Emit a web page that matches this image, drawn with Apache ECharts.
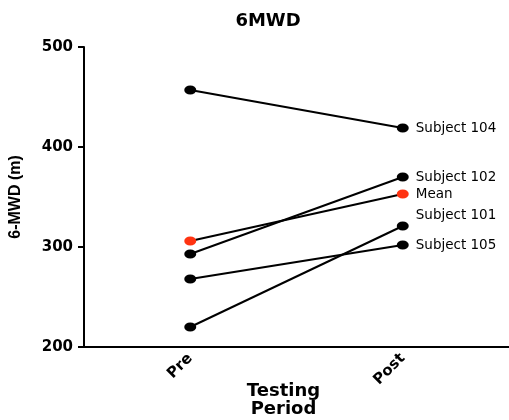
<!DOCTYPE html>
<html><head><meta charset="utf-8">
<script src="https://cdn.jsdelivr.net/npm/echarts@6/dist/echarts.min.js"></script>
<style>html,body{margin:0;padding:0;background:#fff;overflow:hidden}#c{width:509px;height:420px}</style>
</head><body><div id="c"></div>
<script>
const categories = ['Pre', 'Post'];
const subject104 = [457, 419];
const subject102 = [293, 370];
const meanValues = [306, 353];
const subject101 = [220, 321];
const subject105 = [268, 302];
const yTicks = [200, 300, 400, 500];

const font = 'DejaVu Sans, Liberation Sans, sans-serif';
function mk(name, data, color, labelOffset) {
  return {
    name: name, type: 'line', data: data,
    symbol: 'circle', symbolSize: [12, 9],
    lineStyle: {color: '#000', width: 2},
    itemStyle: {color: color},
    z: color === '#000' ? 2 : 3,
    label: {
      show: true, position: 'right', distance: 7,
      offset: labelOffset || [0, 0],
      formatter: function (p) { return p.dataIndex === 1 ? name : ''; },
      color: '#000', fontFamily: font, fontSize: 13.5
    }
  };
}
const chart = echarts.init(document.getElementById('c'));
chart.setOption({
  animation: false,
  title: {text: '6MWD', left: 263, top: 7, textAlign: 'center',
    textStyle: {fontFamily: font, fontSize: 18, fontWeight: 'bold', color: '#000'}},
  grid: {left: 84, width: 425, top: 47, height: 300, containLabel: false, outerBoundsMode: 'none'},
  xAxis: {
    type: 'category', data: categories, boundaryGap: true,
    axisLine: {lineStyle: {color: '#000', width: 2}},
    axisTick: {alignWithLabel: true, length: 5, lineStyle: {width: 2, color: '#000'}},
    axisLabel: {rotate: 45, margin: 9, color: '#000', fontFamily: font, fontSize: 15, fontWeight: 'bold'},
    name: 'Testing\nPeriod', nameLocation: 'middle', nameGap: 35, nameMoveOverlap: false,
    nameTextStyle: {fontFamily: font, fontSize: 18, fontWeight: 'bold', color: '#000', lineHeight: 18, padding: [0, 0, 0, -26]}
  },
  yAxis: {
    type: 'value', min: yTicks[0], max: yTicks[yTicks.length - 1], interval: 100,
    axisLine: {show: true, lineStyle: {color: '#000', width: 2}},
    axisTick: {show: true, length: 6, lineStyle: {width: 2, color: '#000'}},
    splitLine: {show: false},
    axisLabel: {margin: 11, color: '#000', fontFamily: font, fontSize: 15, fontWeight: 'bold'},
    name: '6-MWD (m)', nameLocation: 'middle', nameGap: 60, nameMoveOverlap: false,
    nameTextStyle: {fontFamily: 'Liberation Sans, Arial, sans-serif', fontSize: 16, fontWeight: 'bold', color: '#000'}
  },
  series: [
    mk('Subject 104', subject104, '#000'),
    mk('Subject 102', subject102, '#000'),
    mk('Mean', meanValues, '#ff3311'),
    mk('Subject 101', subject101, '#000', [0, -11]),
    mk('Subject 105', subject105, '#000')
  ]
});
</script></body></html>
